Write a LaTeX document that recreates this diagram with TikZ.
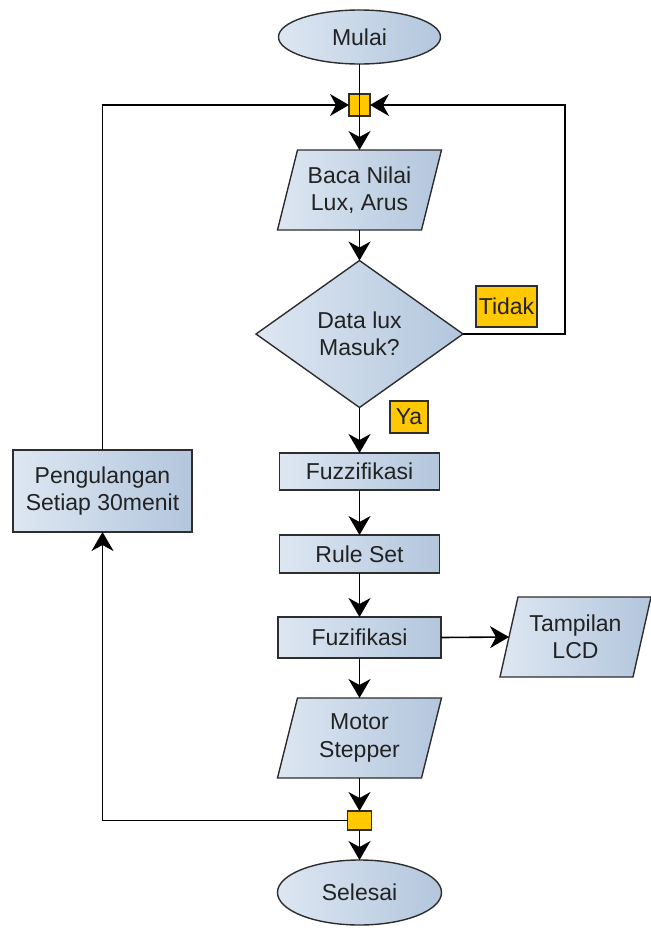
\documentclass[tikz,border=0pt]{standalone}
\usepackage{fontspec}
\setmainfont{Liberation Sans}
\usetikzlibrary{shapes.geometric,arrows.meta,backgrounds}
\definecolor{fillL}{HTML}{DDE7F2}
\definecolor{fillR}{HTML}{B3C6DD}
\definecolor{edgec}{HTML}{2E2E2E}
\definecolor{yel}{HTML}{FFC800}
\definecolor{txt}{HTML}{222222}
\newcommand\fsz{\fontsize{23pt}{27.5pt}\selectfont}
\newcommand\drawpara[2]{\path[draw=edgec,line width=1.4pt,left color=fillL,right color=fillR]
  ([xshift=#2]#1.north west) -- ([xshift=#2]#1.north east) --
  ([xshift=-#2]#1.south east) -- ([xshift=-#2]#1.south west) -- cycle;}
\begin{document}
\begin{tikzpicture}[x=1pt,y=-1pt,
  base/.style={draw=edgec,line width=1.4pt,left color=fillL,right color=fillR,
    text=txt,font=\fsz,align=center,inner sep=0pt,outer sep=0pt},
  term/.style={base,ellipse},
  proc/.style={base,rectangle},
  decis/.style={base,diamond},
  io/.style={rectangle,text=txt,font=\fsz,align=center,inner sep=0pt,outer sep=0pt},
  junc/.style={draw=edgec,fill=yel,line width=1.3pt,minimum width=21pt,
    minimum height=22pt,inner sep=0pt,outer sep=0pt},
  lbl/.style={draw=edgec,fill=yel,line width=1.3pt,text=txt,font=\fsz,
    inner sep=0pt,outer sep=0pt},
  conn/.style={line width=1.6pt,draw=black},
  arr/.style={conn,-{Stealth[length=19pt,width=22pt,inset=6pt]}}
]
\useasboundingbox (0,0) rectangle (651,935);

% nodes
\node[term,minimum width=162pt,minimum height=54pt] (mulai) at (359.5,37) {Mulai};
\node[junc] (j1) at (359.5,105) {};
\node[io,minimum width=144pt,minimum height=80pt] (baca) at (359.5,190) {Baca Nilai\\Lux, Arus};
\node[decis,minimum width=207pt,minimum height=147pt] (dec) at (359.5,334) {Data lux\\Masuk?};
\node[lbl,minimum width=61pt,minimum height=41pt] (tidak) at (506.5,306.5) {Tidak};
\node[lbl,minimum width=38pt,minimum height=32pt] (ya) at (409,417) {Ya};
\node[proc,minimum width=160pt,minimum height=37pt] (fuzz) at (359.5,471.5) {Fuzzifikasi};
\node[proc,minimum width=160pt,minimum height=38pt] (rule) at (359.5,554) {Rule Set};
\node[proc,minimum width=163pt,minimum height=41pt] (fuzi) at (359.5,637.5) {Fuzifikasi};
\node[io,minimum width=133pt,minimum height=80pt] (lcd) at (575.5,637) {Tampilan\\LCD};
\node[io,minimum width=144pt,minimum height=80pt] (motor) at (359.5,738) {Motor\\Stepper};
\node[junc,minimum width=24pt,minimum height=19pt] (j2) at (359.5,820.5) {};
\node[term,minimum width=164pt,minimum height=65pt] (selesai) at (359.5,892.5) {Selesai};
\node[proc,minimum width=179pt,minimum height=82pt] (peng) at (102.5,491) {Pengulangan\\Setiap 30menit};

\begin{pgfonlayer}{background}
  \fill[white] (0,0) rectangle (651,935);
  \drawpara{baca}{10pt}
  \drawpara{lcd}{9pt}
  \drawpara{motor}{10pt}
\end{pgfonlayer}

\coordinate (rc) at (565,105);

% connectors
\draw[conn] (mulai.south) -- (j1.center);
\draw[arr] (j1.center) -- (baca.north);
\draw[arr] (baca.south) -- (dec.north);
\draw[arr] (dec.south) -- (fuzz.north);
\draw[arr] (fuzz.south) -- (rule.north);
\draw[arr] (rule.south) -- (fuzi.north);
\draw[arr] (fuzi.east) -- (lcd.west);
\draw[arr] (fuzi.south) -- (motor.north);
\draw[arr] (motor.south) -- (j2.north);
\draw[arr] (j2.south) -- (selesai.north);
\draw[arr] (j2.west) -| (peng.south);
\draw[arr] (peng.north) |- (j1.west);
\draw[arr] (dec.east) -| (rc) -- (j1.east);
\end{tikzpicture}
\end{document}
